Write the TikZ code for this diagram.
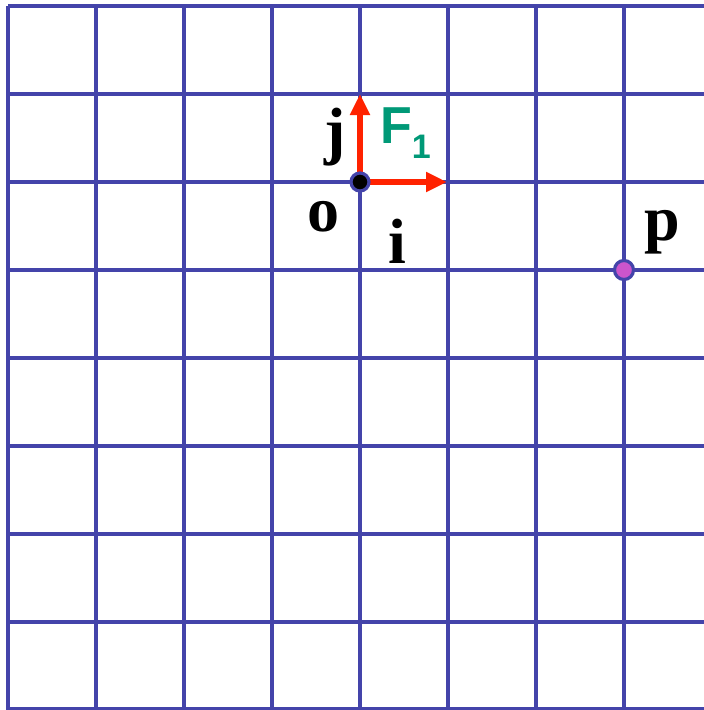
\documentclass[tikz,border=0pt]{standalone}
\usepackage{fontspec}
\setmainfont{Liberation Serif}
\newfontfamily\lsans{Liberation Sans}
\usetikzlibrary{arrows.meta}
\definecolor{gridblue}{RGB}{68,68,170}
\definecolor{arrred}{RGB}{255,34,0}
\definecolor{fgreen}{RGB}{0,153,119}
\definecolor{pmag}{RGB}{204,85,204}
\tikzset{
  gridline/.style={draw=gridblue,line width=3.4pt},
  vecarrow/.style={draw=arrred,line width=6pt,-{Triangle[length=21pt,width=19pt]}},
  ptdot/.style={circle,draw=gridblue,line width=3.2pt,inner sep=0pt},
  lbl/.style={font=\fontsize{64}{64}\selectfont\bfseries,anchor=base,inner sep=0pt},
}
\begin{document}
\begin{tikzpicture}[x=1pt,y=-1pt]
\useasboundingbox (0,0) rectangle (704,710);
\fill[white] (0,0) rectangle (704,710);
% grid
\foreach \k in {0,...,7} {
  \draw[gridline] ({8+88*\k},6) -- ({8+88*\k},712);
}
\foreach \y in {6,94,182,270,358,446,534,622,709} {
  \draw[gridline] (8,\y) -- (706,\y);
}
% origin and point
\coordinate (oc) at (360,182);
\coordinate (itip) at (447,182);
\coordinate (jtip) at (360,94);
\draw[vecarrow] (oc) -- (itip);
\draw[vecarrow] (oc) -- (jtip);
\node[ptdot,fill=black,minimum size=18pt] (o) at (oc) {};
\node[ptdot,fill=pmag,minimum size=19pt] (p) at (624,270) {};
% labels
\node[lbl] (jl) at (335,152) {j};
\node[lbl] (ol) at (323,231) {o};
\node[lbl] (il) at (397,263) {i};
\node[lbl] (pl) at (662,240) {p};
\node[font=\lsans\bfseries\fontsize{52}{52}\selectfont,text=fgreen,anchor=base west,inner sep=0pt] (F) at (380,143) {F\raisebox{-0.3em}{\fontsize{34}{34}\selectfont 1}};
\end{tikzpicture}
\end{document}
